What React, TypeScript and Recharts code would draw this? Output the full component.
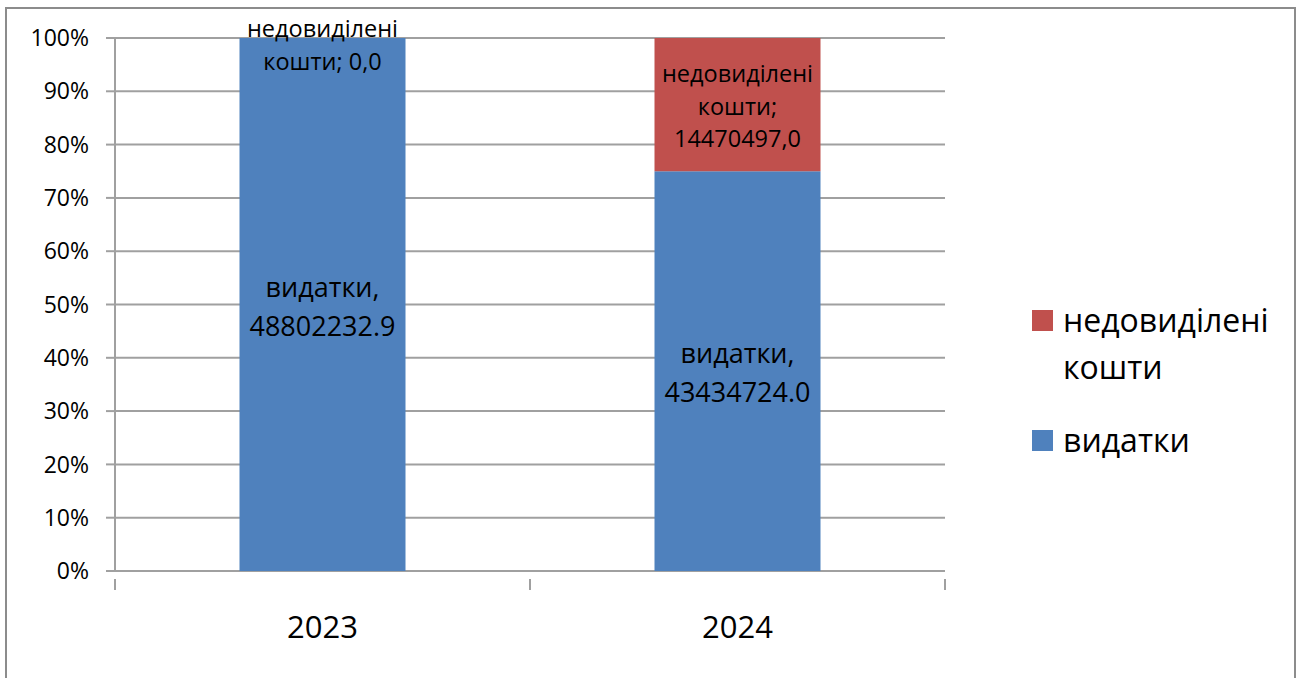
import React from 'react'
import { BarChart, Bar, XAxis, YAxis, CartesianGrid, LabelList } from 'recharts'

document.body.style.margin = '0'

const years = ['2023', '2024']
const spending = [48802232.9, 43434724.0]
const unallocated = [0, 14470497.0]
const percentTicks = [0, 0.1, 0.2, 0.3, 0.4, 0.5, 0.6, 0.7, 0.8, 0.9, 1]

const spendingName = 'видатки'
const unallocatedName = 'недовиділені кошти'

const BLUE = '#4F81BD'
const RED = '#C0504D'
const GRID = '#a0a0a0'

const W = 1301
const H = 678
const M = { top: 38, right: 356, left: 0, bottom: 0 }
const Y_AXIS_W = 115
const X_AXIS_H = 107
const bandSize = (W - M.right - Y_AXIS_W) / years.length

const data = years.map((year, i) => ({
    year,
    spending: spending[i],
    unallocated: unallocated[i],
}))

const spendingLines = (v: number) => ['видатки,', v.toFixed(1)]
const unallocatedLines = (v: number) => {
    const s = v.toFixed(1).replace('.', ',')
    return s.length > 4 ? ['недовиділені', 'кошти;', s] : ['недовиділені', 'кошти; ' + s]
}

// multi-line label centred on a segment, pushed down if it would leave the frame
function labelBlock(cx: number, cy: number, lines: string[], fontSize: number, gap: number) {
    const n = lines.length
    const minCy = 11 + (n * gap) / 2
    const c = Math.max(cy, minCy)
    const first = c - ((n - 1) * gap) / 2 + 0.43 * fontSize
    return (
        <text textAnchor="middle" fontSize={fontSize} fill="#000">
            {lines.map((l, i) => (
                <tspan key={i} x={cx} y={first + i * gap}>
                    {l}
                </tspan>
            ))}
        </text>
    )
}

const SpendingLabel = (props: any) => {
    const { x, y, width, height, value, index } = props
    const cx = Number(x) + Number(width) / 2
    const top = Number(y)
    const zeroAbove = unallocated[index] === 0
    return (
        <g>
            {labelBlock(cx, top + Number(height) / 2, spendingLines(Number(value)), 27, 39)}
            {/* a zero-height segment gets no rectangle, so its label sits on top of this one */}
            {zeroAbove && labelBlock(cx, top, unallocatedLines(0), 23.5, 32.5)}
        </g>
    )
}

const UnallocatedLabel = (props: any) => {
    const { x, y, width, height, value } = props
    if (!Number(value)) return null
    const cx = Number(x) + Number(width) / 2
    return labelBlock(cx, Number(y) + Number(height) / 2, unallocatedLines(Number(value)), 23.5, 32.5)
}

const YearTick = (props: any) => {
    const { x, y, payload, index } = props
    const half = bandSize / 2
    const last = index === years.length - 1
    return (
        <g>
            <line x1={x - half} x2={x - half} y1={y} y2={y + 11} stroke={GRID} strokeWidth={2} />
            {last && <line x1={x + half} x2={x + half} y1={y} y2={y + 11} stroke={GRID} strokeWidth={2} />}
            <text x={x} y={y + 59} textAnchor="middle" fontSize={31} fill="#000">
                {payload.value}
            </text>
        </g>
    )
}

const legendItems = [
    { name: unallocatedName, color: RED },
    { name: spendingName, color: BLUE },
]

export default function App() {
    return (
        <div style={{ position: 'relative', width: W, height: H, overflow: 'hidden', background: '#fff', fontFamily: '"Open Sans", sans-serif' }}>
            <div
                style={{
                    position: 'absolute',
                    left: 5,
                    top: 7,
                    width: 1287,
                    height: 720,
                    border: '2px solid #8c8c8c',
                }}
            />
            <BarChart
                width={W}
                height={H}
                data={data}
                margin={M}
                stackOffset="expand"
                barCategoryGap="30%"
                style={{ position: 'absolute', left: 0, top: 0 }}
            >
                <CartesianGrid vertical={false} stroke={GRID} strokeWidth={2} />
                <XAxis
                    dataKey="year"
                    height={X_AXIS_H}
                    axisLine={false}
                    tickLine={false}
                    tick={<YearTick />}
                    interval={0}
                />
                <YAxis
                    width={Y_AXIS_W}
                    domain={[0, 1]}
                    ticks={percentTicks}
                    tickFormatter={(v: number) => `${Math.round(v * 100)}%`}
                    tick={{ fontSize: 23, fill: '#000' }}
                    tickSize={9}
                    tickMargin={17}
                    axisLine={{ stroke: GRID, strokeWidth: 2 }}
                    tickLine={{ stroke: GRID, strokeWidth: 2 }}
                    interval={0}
                />
                <Bar dataKey="spending" name={spendingName} stackId="a" fill={BLUE} isAnimationActive={false}>
                    <LabelList dataKey="spending" content={<SpendingLabel />} />
                </Bar>
                <Bar dataKey="unallocated" name={unallocatedName} stackId="a" fill={RED} isAnimationActive={false}>
                    <LabelList dataKey="unallocated" content={<UnallocatedLabel />} />
                </Bar>
            </BarChart>
            <svg width={W} height={H} style={{ position: 'absolute', left: 0, top: 0, pointerEvents: 'none' }}>
                {legendItems.map((item, i) => {
                    const top = i === 0 ? 310 : 430
                    const words = item.name.split(' ')
                    return (
                        <g key={item.name}>
                            <rect x={1032} y={top} width={21} height={21} fill={item.color} />
                            <text fontSize={32} fill="#000">
                                {words.map((w, j) => (
                                    <tspan key={j} x={1063} y={top + 22 + j * 46.5}>
                                        {w}
                                    </tspan>
                                ))}
                            </text>
                        </g>
                    )
                })}
            </svg>
        </div>
    )
}
